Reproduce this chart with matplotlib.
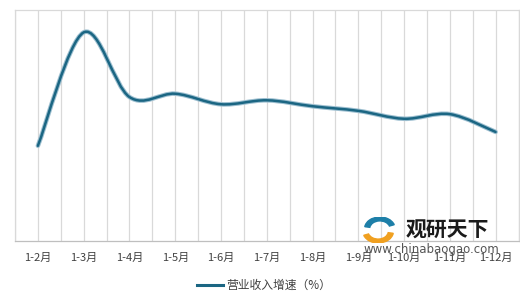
import matplotlib
matplotlib.use("Agg")
import matplotlib.pyplot as plt
import numpy as np
from matplotlib.path import Path
from matplotlib.patches import PathPatch, Wedge

plt.rcParams['font.family'] = ['Noto Sans CJK SC', 'DejaVu Sans']

categories = ["1-2月", "1-3月", "1-4月", "1-5月", "1-6月", "1-7月",
              "1-8月", "1-9月", "1-10月", "1-11月", "1-12月"]
growth = [14.4, 31.6, 21.8, 22.3, 20.7, 21.3, 20.4, 19.7, 18.5, 19.2, 16.5]
series_name = "营业收入增速（%）"

fig = plt.figure(figsize=(5.2, 3.06), dpi=100)
ax = fig.add_axes([15/520, 1 - 240.7/306, (518.5-15)/520, (240.7-10)/306])

n = len(categories)
ax.set_xlim(-0.5, n - 0.5)
ax.set_ylim(0, 35)

# Smooth Bezier (Catmull-Rom style) through data points
xs = np.arange(n, dtype=float)
ys = np.array(growth, dtype=float)
verts = [(xs[0], ys[0])]
codes = [Path.MOVETO]
t = 1/6
for i in range(n - 1):
    p0 = (xs[i-1], ys[i-1]) if i > 0 else (xs[i], ys[i])
    p1 = (xs[i], ys[i])
    p2 = (xs[i+1], ys[i+1])
    p3 = (xs[i+2], ys[i+2]) if i + 2 < n else (xs[i+1], ys[i+1])
    c1 = (p1[0] + (p2[0]-p0[0])*t, p1[1] + (p2[1]-p0[1])*t)
    c2 = (p2[0] - (p3[0]-p1[0])*t, p2[1] - (p3[1]-p1[1])*t)
    verts += [c1, c2, p2]
    codes += [Path.CURVE4]*3
path = Path(verts, codes)
ax.add_patch(PathPatch(path, fill=False, edgecolor="#9dbfd0", lw=3.3,
                       capstyle='round', joinstyle='round', zorder=3))
ax.add_patch(PathPatch(path, fill=False, edgecolor="#1b6683", lw=1.8,
                       capstyle='round', joinstyle='round', zorder=4))

# grid lines at categories and at boundaries
for x in np.arange(-0.5, n, 0.5):
    ax.axvline(x, color="#d9d9d9", lw=0.9, zorder=1)
ax.set_xticks(xs)
ax.set_xticklabels(categories, fontsize=8, color="#404040")
ax.tick_params(axis='x', length=0, pad=9)
ax.set_yticks([])
for side in ["top", "left", "right"]:
    ax.spines[side].set_color("#d9d9d9")
    ax.spines[side].set_linewidth(0.9)
ax.spines["bottom"].set_color("#bfbfbf")
ax.spines["bottom"].set_linewidth(0.9)

# legend
fig.lines.append(plt.Line2D([197/520, 223/520], [1-285/306, 1-285/306],
                            transform=fig.transFigure, color="#1b6683", lw=2.2))
fig.text(226/520, 1-285/306, series_name, fontsize=8.5, color="#404040",
         va='center', ha='left')

# watermark
fig.text(406/520, 1-230/306, "观研天下", fontsize=15, fontweight='bold',
         color="#1a1a1a", va='center', ha='left')
fig.text(431/520, 1-249/306, "www.chinabaogao.com", fontsize=8.5,
         color="#555555", va='center', ha='center', family='DejaVu Sans')
cx, cy = 379/520, 1-230/306
wax = fig.add_axes([cx-17/520, cy-13/306, 34/520, 26/306])
wax.set_xlim(-1, 1); wax.set_ylim(-1, 1); wax.axis('off')
wax.add_patch(Wedge((0.05, 0.1), 0.9, 20, 170, width=0.3, color="#1d7fa8"))
wax.add_patch(Wedge((-0.05, -0.1), 0.9, 200, 350, width=0.3, color="#f0a020"))

fig.savefig("out.png", dpi=100)
